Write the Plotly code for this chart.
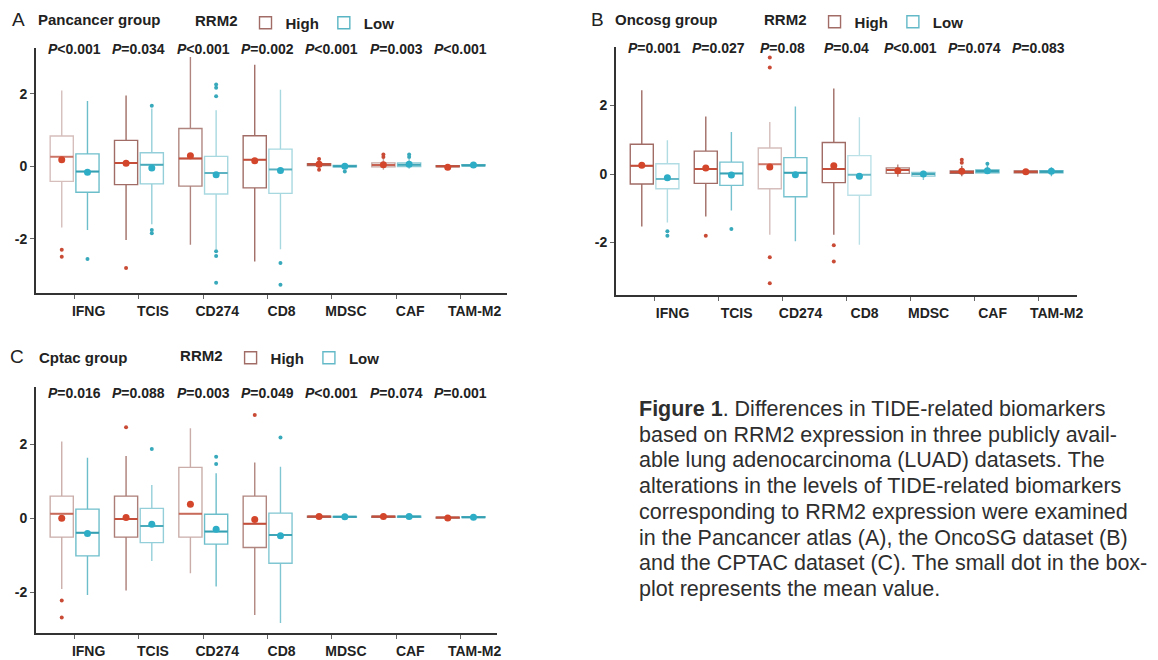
import plotly.graph_objects as go

# ---------------- data ----------------
MARKERS = ["IFNG", "TCIS", "CD274", "CD8", "MDSC", "CAF", "TAM-M2"]
GROUPS = ["High", "Low"]

# Panel A - Pancancer group
A_HIGH_Q1 = [-0.42, -0.51, -0.55, -0.60, 0.02, -0.02, -0.02]
A_HIGH_MED = [0.26, 0.09, 0.21, 0.18, 0.05, 0.03, 0.00]
A_HIGH_Q3 = [0.83, 0.71, 1.04, 0.84, 0.07, 0.09, 0.01]
A_HIGH_LO = [-1.69, -2.04, -2.17, -2.63, -0.07, -0.10, -0.05]
A_HIGH_HI = [2.09, 1.95, 3.01, 2.80, 0.16, 0.20, 0.04]
A_HIGH_MEAN = [0.18, 0.08, 0.29, 0.15, 0.05, 0.04, -0.03]
A_HIGH_OUT_CAT = ["IFNG", "IFNG", "TCIS", "MDSC", "MDSC", "CAF", "CAF"]
A_HIGH_OUT_VAL = [-2.31, -2.50, -2.81, 0.20, -0.10, 0.25, 0.32]
A_LOW_Q1 = [-0.72, -0.49, -0.77, -0.75, -0.02, -0.01, 0.01]
A_LOW_MED = [-0.15, 0.04, -0.19, -0.09, 0.00, 0.04, 0.02]
A_LOW_Q3 = [0.34, 0.37, 0.27, 0.47, 0.02, 0.09, 0.04]
A_LOW_LO = [-1.76, -1.60, -2.29, -2.29, -0.08, -0.07, -0.01]
A_LOW_HI = [1.80, 1.59, 1.54, 2.11, 0.07, 0.20, 0.06]
A_LOW_MEAN = [-0.17, -0.05, -0.24, -0.12, 0.00, 0.05, 0.03]
A_LOW_OUT_CAT = ["IFNG", "TCIS", "TCIS", "TCIS", "CD274", "CD274", "CD274", "CD274",
                 "CD274", "CD274", "CD8", "CD8", "MDSC", "CAF", "CAF"]
A_LOW_OUT_VAL = [-2.56, 1.67, -1.76, -1.85, 2.25, 2.16, 1.93, -2.35,
                 -2.48, -3.22, -2.67, -3.27, -0.15, 0.25, 0.32]
A_PVALS = ["<0.001", "=0.034", "<0.001", "=0.002", "<0.001", "=0.003", "<0.001"]

# Panel B - Oncosg group
B_HIGH_Q1 = [-0.29, -0.27, -0.43, -0.25, 0.02, 0.02, 0.04]
B_HIGH_MED = [0.24, 0.15, 0.29, 0.15, 0.12, 0.06, 0.07]
B_HIGH_Q3 = [0.87, 0.67, 0.76, 0.92, 0.18, 0.09, 0.09]
B_HIGH_LO = [-1.53, -1.24, -1.77, -1.77, -0.08, -0.06, 0.02]
B_HIGH_HI = [2.45, 1.68, 1.52, 2.50, 0.28, 0.24, 0.12]
B_HIGH_MEAN = [0.26, 0.18, 0.21, 0.24, 0.10, 0.08, 0.07]
B_HIGH_OUT_CAT = ["TCIS", "CD274", "CD274", "CD274", "CD274", "CD8", "CD8", "CAF", "CAF"]
B_HIGH_OUT_VAL = [-1.80, 3.40, 3.11, -2.43, -3.19, -2.08, -2.55, 0.33, 0.42]
B_LOW_Q1 = [-0.43, -0.33, -0.66, -0.62, -0.06, 0.04, 0.04]
B_LOW_MED = [-0.14, 0.02, 0.04, -0.02, 0.00, 0.09, 0.07]
B_LOW_Q3 = [0.30, 0.35, 0.48, 0.54, 0.05, 0.12, 0.10]
B_LOW_LO = [-1.41, -1.06, -1.96, -2.06, -0.17, 0.00, -0.06]
B_LOW_HI = [0.99, 1.23, 1.97, 1.66, 0.10, 0.26, 0.20]
B_LOW_MEAN = [-0.11, -0.03, -0.02, -0.06, 0.00, 0.10, 0.08]
B_LOW_OUT_CAT = ["IFNG", "IFNG", "TCIS", "CAF"]
B_LOW_OUT_VAL = [-1.67, -1.80, -1.60, 0.30]
B_PVALS = ["=0.001", "=0.027", "=0.08", "=0.04", "<0.001", "=0.074", "=0.083"]

# Panel C - Cptac group
C_HIGH_Q1 = [-0.51, -0.51, -0.51, -0.79, 0.03, 0.03, 0.01]
C_HIGH_MED = [0.12, -0.02, 0.12, -0.15, 0.05, 0.05, 0.02]
C_HIGH_Q3 = [0.60, 0.60, 1.38, 0.60, 0.06, 0.06, 0.03]
C_HIGH_LO = [-1.92, -1.96, -1.49, -2.62, 0.02, 0.02, 0.00]
C_HIGH_HI = [2.08, 1.69, 2.44, 1.51, 0.08, 0.08, 0.04]
C_HIGH_MEAN = [0.00, 0.02, 0.38, -0.03, 0.05, 0.05, 0.01]
C_HIGH_OUT_CAT = ["IFNG", "IFNG", "TCIS", "CD8"]
C_HIGH_OUT_VAL = [-2.23, -2.69, 2.47, 2.80]
C_LOW_Q1 = [-1.02, -0.66, -0.70, -1.22, 0.03, 0.03, 0.02]
C_LOW_MED = [-0.39, -0.21, -0.36, -0.45, 0.04, 0.05, 0.03]
C_LOW_Q3 = [0.25, 0.27, 0.11, 0.14, 0.05, 0.06, 0.04]
C_LOW_LO = [-2.08, -1.16, -1.85, -2.84, 0.02, 0.00, 0.01]
C_LOW_HI = [1.64, 0.90, 1.22, 1.40, 0.06, 0.10, 0.05]
C_LOW_MEAN = [-0.41, -0.16, -0.30, -0.47, 0.04, 0.05, 0.03]
C_LOW_OUT_CAT = ["TCIS", "CD274", "CD274", "CD8"]
C_LOW_OUT_VAL = [1.88, 1.67, 1.47, 2.19]
C_PVALS = ["=0.016", "=0.088", "=0.003", "=0.049", "<0.001", "=0.074", "=0.001"]

Y_TICKS = [-2, 0, 2]

CAPTION_LINES = [
    "<b>Figure 1</b>. Differences in TIDE-related biomarkers",
    "based on RRM2 expression in three publicly avail-",
    "able lung adenocarcinoma (LUAD) datasets. The",
    "alterations in the levels of TIDE-related biomarkers",
    "corresponding to RRM2 expression were examined",
    "in the Pancancer atlas (A), the OncoSG dataset (B)",
    "and the CPTAC dataset (C). The small dot in the box-",
    "plot represents the mean value.",
]

# ---------------- styles / layout ----------------
W, H = 1158, 660
FONT = "Liberation Sans"
BOX_RGB = {"High": (150, 92, 84), "Low": (60, 168, 186)}
MED_RGB = {"High": (196, 78, 58), "Low": (52, 160, 178)}
DOT = {"High": "#d4462c", "Low": "#2eadc6"}
OUT = {"High": "#c94b36", "Low": "#38a9bb"}
OFFSET = {"High": -0.2, "Low": 0.2}
BOX_W = 0.36

PANELS = [
    dict(letter="A", title="Pancancer group", ax="", xpx=(36, 510), ypx=(48, 293),
         xr=(-0.603, 6.727), yr=(-3.50, 3.26), letter_xy=(10, 19), title_xy=(36, 20),
         legend_xy=(194, 23), p_y=49, shift=14,
         alpha=dict(High=[0.4, 0.9, 0.75, 0.9, 0.9, 0.55, 0.9],
                    Low=[0.75, 0.55, 0.45, 0.45, 0.8, 0.6, 0.85]),
         data=dict(High=(A_HIGH_Q1, A_HIGH_MED, A_HIGH_Q3, A_HIGH_LO, A_HIGH_HI, A_HIGH_MEAN,
                         A_HIGH_OUT_CAT, A_HIGH_OUT_VAL),
                   Low=(A_LOW_Q1, A_LOW_MED, A_LOW_Q3, A_LOW_LO, A_LOW_HI, A_LOW_MEAN,
                        A_LOW_OUT_CAT, A_LOW_OUT_VAL)),
         pvals=A_PVALS),
    dict(letter="B", title="Oncosg group", ax="2", xpx=(619, 1083), ypx=(47, 295),
         xr=(-0.606, 6.606), yr=(-3.53, 3.71), letter_xy=(592, 19), title_xy=(616, 19),
         legend_xy=(766, 22), p_y=48, shift=18,
         alpha=dict(High=[0.9, 0.9, 0.4, 0.9, 0.75, 0.9, 0.9],
                    Low=[0.4, 0.7, 0.7, 0.35, 0.6, 0.8, 0.8]),
         data=dict(High=(B_HIGH_Q1, B_HIGH_MED, B_HIGH_Q3, B_HIGH_LO, B_HIGH_HI, B_HIGH_MEAN,
                         B_HIGH_OUT_CAT, B_HIGH_OUT_VAL),
                   Low=(B_LOW_Q1, B_LOW_MED, B_LOW_Q3, B_LOW_LO, B_LOW_HI, B_LOW_MEAN,
                        B_LOW_OUT_CAT, B_LOW_OUT_VAL)),
         pvals=B_PVALS),
    dict(letter="C", title="Cptac group", ax="3", xpx=(36, 500), ypx=(387, 633),
         xr=(-0.603, 6.572), yr=(-3.11, 3.56), letter_xy=(8, 356), title_xy=(37, 357),
         legend_xy=(179, 358), p_y=393, shift=14,
         alpha=dict(High=[0.5, 0.8, 0.5, 0.75, 0.9, 0.9, 0.9],
                    Low=[0.75, 0.55, 0.75, 0.65, 0.8, 0.8, 0.8]),
         data=dict(High=(C_HIGH_Q1, C_HIGH_MED, C_HIGH_Q3, C_HIGH_LO, C_HIGH_HI, C_HIGH_MEAN,
                         C_HIGH_OUT_CAT, C_HIGH_OUT_VAL),
                   Low=(C_LOW_Q1, C_LOW_MED, C_LOW_Q3, C_LOW_LO, C_LOW_HI, C_LOW_MEAN,
                        C_LOW_OUT_CAT, C_LOW_OUT_VAL)),
         pvals=C_PVALS),
]


def rgba(rgb, a):
    return "rgba(%d,%d,%d,%.2f)" % (rgb[0], rgb[1], rgb[2], min(1.0, a))


fig = go.Figure()
annotations = []
layout_extra = {}

for P in PANELS:
    xa, ya = "x" + P["ax"], "y" + P["ax"]
    legend_name = "legend" + P["ax"]
    for g in GROUPS:
        q1, med, q3, lo, hi, mean, ocat, oval = P["data"][g]
        alphas = P["alpha"][g]
        legend_idx = max(range(len(alphas)), key=lambda k: alphas[k])
        for i, m in enumerate(MARKERS):
            pos = i + OFFSET[g]
            fig.add_trace(go.Box(
                x=[pos], q1=[q1[i]], median=[med[i]], q3=[q3[i]],
                lowerfence=[lo[i]], upperfence=[hi[i]],
                width=BOX_W, whiskerwidth=0, boxpoints=False,
                line=dict(color=rgba(BOX_RGB[g], alphas[i]), width=1.4),
                fillcolor="rgba(255,255,255,0)",
                name=g, legendgroup=g + P["ax"], legend=legend_name,
                showlegend=(i == legend_idx),
                xaxis=xa, yaxis=ya, hoverinfo="skip"))
            # median line drawn in the stronger group colour
            fig.add_trace(go.Scatter(
                x=[pos - BOX_W / 2, pos + BOX_W / 2], y=[med[i], med[i]], mode="lines",
                line=dict(color=rgba(MED_RGB[g], alphas[i] + 0.25), width=2),
                showlegend=False, xaxis=xa, yaxis=ya, hoverinfo="skip"))
        # mean dots
        fig.add_trace(go.Scatter(
            x=[i + OFFSET[g] for i in range(len(MARKERS))], y=mean, mode="markers",
            marker=dict(size=7, color=DOT[g]),
            showlegend=False, xaxis=xa, yaxis=ya, hoverinfo="skip"))
        # outliers
        fig.add_trace(go.Scatter(
            x=[MARKERS.index(c) + OFFSET[g] for c in ocat], y=oval, mode="markers",
            marker=dict(size=4, color=OUT[g]),
            showlegend=False, xaxis=xa, yaxis=ya, hoverinfo="skip"))

    axis_font = dict(family=FONT, size=14, color="#222222", weight="bold")
    layout_extra["xaxis" + P["ax"]] = dict(
        domain=[P["xpx"][0] / W, P["xpx"][1] / W], range=list(P["xr"]),
        anchor=ya, tickvals=list(range(len(MARKERS))), ticktext=MARKERS,
        showline=True, linecolor="#333333", linewidth=1.5, ticks="outside",
        ticklen=4, tickcolor="#666666", tickwidth=1, tickfont=axis_font,
        ticklabelshift=P["shift"], ticklabelstandoff=0,
        showgrid=False, zeroline=False, fixedrange=True)
    layout_extra["yaxis" + P["ax"]] = dict(
        domain=[1 - P["ypx"][1] / H, 1 - P["ypx"][0] / H], range=list(P["yr"]),
        anchor=xa, tickvals=Y_TICKS, ticktext=[str(v) for v in Y_TICKS],
        showline=True, linecolor="#333333", linewidth=1.5, ticks="outside",
        ticklen=4, tickcolor="#666666", tickwidth=1, tickfont=axis_font,
        showgrid=False, zeroline=False, fixedrange=True)
    layout_extra[legend_name] = dict(
        x=P["legend_xy"][0] / W, xanchor="left", y=1 - P["legend_xy"][1] / H, yanchor="middle",
        orientation="h", bgcolor="rgba(0,0,0,0)", borderwidth=0,
        title=dict(text="<b>RRM2</b>", font=dict(family=FONT, size=15, color="#222222")),
        font=dict(family=FONT, size=15, color="#222222", weight="bold"),
        itemwidth=30, tracegroupgap=0)

    annotations.append(dict(text=P["letter"], x=P["letter_xy"][0] / W, y=1 - P["letter_xy"][1] / H,
                            xref="paper", yref="paper", xanchor="left", yanchor="middle",
                            showarrow=False, font=dict(family=FONT, size=19, color="#222222")))
    annotations.append(dict(text="<b>%s</b>" % P["title"], x=P["title_xy"][0] / W,
                            y=1 - P["title_xy"][1] / H, xref="paper", yref="paper",
                            xanchor="left", yanchor="middle", showarrow=False,
                            font=dict(family=FONT, size=15, color="#222222")))
    for i, pv in enumerate(P["pvals"]):
        annotations.append(dict(text="<b><i>P</i>%s</b>" % pv.replace("<", "&lt;"),
                                x=i, xref=xa, y=1 - P["p_y"] / H, yref="paper",
                                xanchor="center", yanchor="middle", showarrow=False,
                                font=dict(family=FONT, size=14, color="#222222")))

# caption
CAP_X, CAP_Y0, CAP_DY = 640, 409, 25.7
for k, line in enumerate(CAPTION_LINES):
    annotations.append(dict(text=line, x=CAP_X / W, y=1 - (CAP_Y0 + k * CAP_DY) / H,
                            xref="paper", yref="paper", xanchor="left", yanchor="middle",
                            showarrow=False, align="left",
                            font=dict(family=FONT, size=21.5, color="#2e2e2e")))

fig.update_layout(
    width=W, height=H, margin=dict(l=0, r=0, t=0, b=0),
    paper_bgcolor="white", plot_bgcolor="white", hovermode=False,
    annotations=annotations, showlegend=True, **layout_extra)

fig.write_html(
    "out.html",
    config={"displayModeBar": False, "staticPlot": False},
    post_script="document.body.style.margin='0px';document.body.style.overflow='hidden';")
